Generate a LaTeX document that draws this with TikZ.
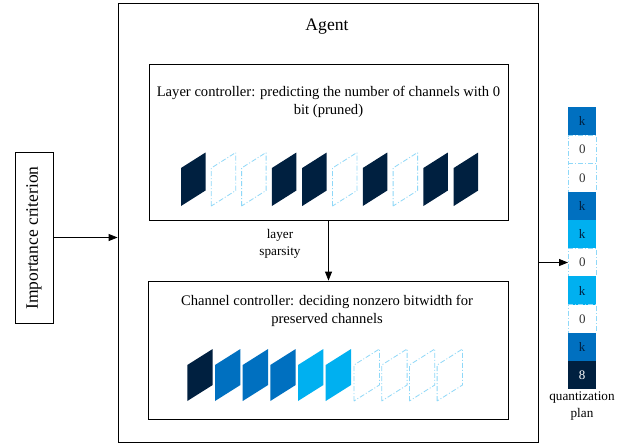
\documentclass[tikz,border=0pt]{standalone}
\usepackage{fontspec}
\setmainfont{Liberation Serif}
\usetikzlibrary{arrows.meta}
\definecolor{navy}{HTML}{002040}
\definecolor{midblue}{HTML}{0070C0}
\definecolor{lightblue}{HTML}{00B0F0}
\definecolor{dashblue}{HTML}{8FD8F8}
\tikzset{
  box/.style={draw=black, line width=0.8pt, inner sep=0pt, fill=white},
  conn/.style={line width=0.8pt, -{Triangle[length=9pt,width=7pt]}},
  bodytext/.style={font=\fontsize{14.6}{17.5}\selectfont, align=center, inner sep=0pt},
  smalltext/.style={font=\fontsize{13.2}{16.5}\selectfont, align=center, inner sep=0pt},
  solidpar/.style={fill=#1, draw=none},
  dashpar/.style={draw=dashblue, line width=0.8pt, dash pattern=on 5pt off 2pt on 1pt off 2pt, fill=none},
  cell/.style={minimum width=28pt, minimum height=28.2pt, inner sep=0pt, anchor=north west, font=\fontsize{13}{15}\selectfont},
  fullcell/.style={cell, fill=#1, draw=none, text=navy},
  emptycell/.style={cell, draw=dashblue, line width=0.8pt, dash pattern=on 5pt off 2pt on 1pt off 2pt, text=black!80}
}
\begin{document}
\begin{tikzpicture}[x=1pt,y=-1pt]
\useasboundingbox (0,0) rectangle (635,445);
% boxes
\node[box, minimum width=420pt, minimum height=439pt] (agent) at (328,222.5) {};
\node[inner sep=0pt, font=\fontsize{17.6}{20}\selectfont] (agenttitle) at (327,27) {Agent};
\node[box, minimum width=359pt, minimum height=156pt] (layer) at (328.5,142) {};
\node[bodytext] (layertext) at (328.5,102) {Layer controller: predicting the number of channels with 0\\bit (pruned)};
\node[box, minimum width=360pt, minimum height=138pt] (channel) at (328,350) {};
\node[bodytext] (channeltext) at (327,311) {Channel controller: deciding nonzero bitwidth for\\preserved channels};
\node[box, minimum width=38pt, minimum height=171pt] (imp) at (34,237.5) {};
\node[rotate=90, inner sep=0pt, font=\fontsize{17.5}{20}\selectfont] (imptext) at (34,238) {Importance criterion};
% layer controller parallelograms
\foreach \xl/\kind in {181/s,211.3/d,241.6/d,271.9/s,302.2/s,332.5/d,362.8/s,393.1/d,423.4/s,453.7/s}{
  \if s\kind
    \fill[navy] (\xl,206) -- (\xl,168) -- (\xl+24.5,152.5) -- (\xl+24.5,190.5) -- cycle;
  \else
    \draw[dashpar] (\xl,206) -- (\xl,168) -- (\xl+24.5,152.5) -- (\xl+24.5,190.5) -- cycle;
  \fi
}
% channel controller parallelograms
\foreach \xl/\col in {187.3/navy,215/midblue,242.7/midblue,270.3/midblue,298/lightblue,325.7/lightblue}{
  \fill[\col] (\xl,401) -- (\xl,365) -- (\xl+25.4,349) -- (\xl+25.4,385) -- cycle;
}
\foreach \xl in {354,381.7,409.4,437.1}{
  \draw[dashpar] (\xl,401) -- (\xl,365) -- (\xl+25.4,349) -- (\xl+25.4,385) -- cycle;
}
% quantization plan
\node[fullcell=midblue] (q1) at (568,107) {k};
\node[emptycell] (q2) at (568,135.2) {0};
\node[emptycell] (q3) at (568,163.4) {0};
\node[fullcell=midblue] (q4) at (568,191.6) {k};
\node[fullcell=lightblue] (q5) at (568,219.8) {k};
\node[emptycell] (q6) at (568,248) {0};
\node[fullcell=lightblue] (q7) at (568,276.2) {k};
\node[emptycell] (q8) at (568,304.4) {0};
\node[fullcell=midblue] (q9) at (568,332.6) {k};
\node[fullcell=navy, text=white] (q10) at (568,360.8) {8};
\node[smalltext] (qcap) at (582,406) {quantization\\plan};
% connectors
\draw[conn] (imp.east) -- (imp.east -| agent.west);
\draw[conn] (layer.south) -- (layer.south |- channel.north);
\node[smalltext] (spars) at (280,244) {layer\\sparsity};
\draw[conn] (agent.east |- q6.west) -- (q6.west);
\end{tikzpicture}
\end{document}
